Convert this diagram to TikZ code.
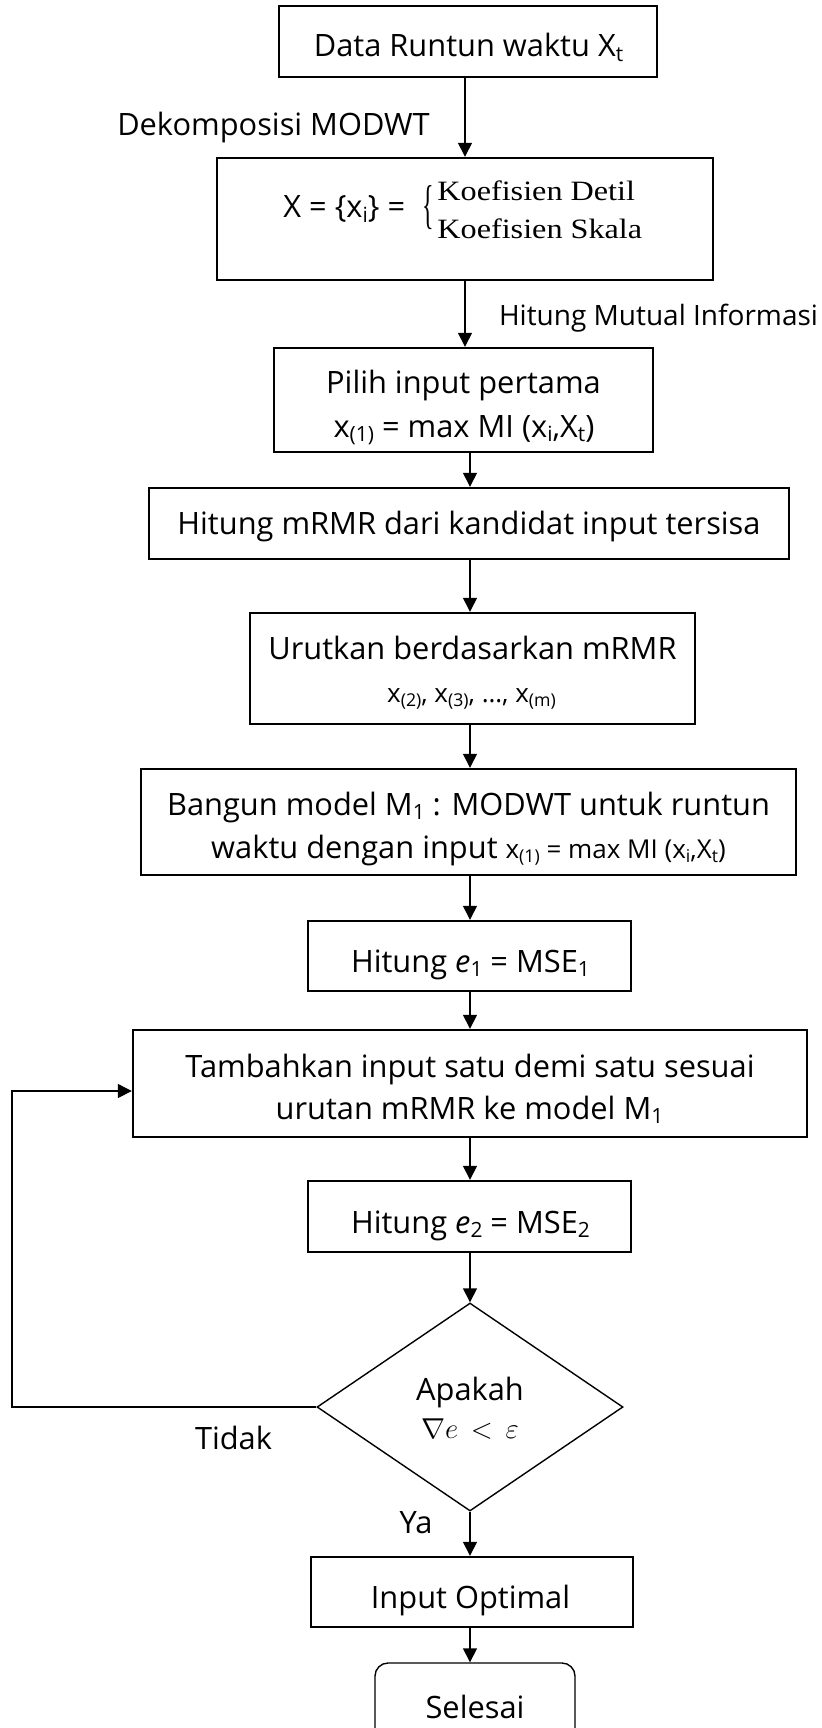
\documentclass[tikz,border=0pt]{standalone}
\usepackage{fontspec}
\usepackage{graphicx}
\setmainfont{Open Sans}
\newfontfamily\serifk[FakeStretch=1.15]{Liberation Serif}
\usetikzlibrary{arrows.meta,shapes.geometric}
\newcommand\lowr[1]{\raisebox{-0.16em}{\scalebox{0.68}{#1}}}
\tikzset{
  box/.style={draw, line width=1.2pt, inner sep=0pt},
  thinbox/.style={draw, line width=0.7pt, inner sep=0pt},
  txt/.style={inner sep=0pt, anchor=base, font=\fontsize{15.4pt}{20pt}\selectfont},
  smalltxt/.style={inner sep=0pt, anchor=base, font=\fontsize{13pt}{16pt}\selectfont},
  sertxt/.style={inner sep=0pt, anchor=west, align=left, font=\fontsize{14pt}{19pt}\serifk},
  arr/.style={line width=0.7pt, -{Triangle[length=7pt,width=7pt]}},
}
\begin{document}
\begin{tikzpicture}[x=0.5pt,y=-0.5pt]
\useasboundingbox (0,0) rectangle (822,1728);
\clip (0,0) rectangle (822,1728);
% boxes
\node[box, minimum width=189pt, minimum height=35.5pt] (b1) at (468,41.5) {};
\node[box, minimum width=248pt, minimum height=61pt] (b2) at (465,219) {};
\node[box, minimum width=189.5pt, minimum height=52pt] (b3) at (463.5,400) {};
\node[box, minimum width=320pt, minimum height=35.5pt] (b4) at (469,523.5) {};
\node[box, minimum width=222.5pt, minimum height=55.5pt] (b5) at (472.5,668.5) {};
\node[box, minimum width=327.5pt, minimum height=53pt] (b6) at (468.5,822) {};
\node[box, minimum width=161.5pt, minimum height=35pt] (b7) at (469.5,956) {};
\node[box, minimum width=337pt, minimum height=53.5pt] (b8) at (470,1083.5) {};
\node[box, minimum width=161.5pt, minimum height=35.5pt] (b9) at (469.5,1216.5) {};
\node[thinbox, diamond, minimum width=153pt, minimum height=104pt] (dec) at (470,1407) {};
\node[box, minimum width=161pt, minimum height=35pt] (b10) at (472,1592) {};
\node[thinbox, rounded corners=6.5pt, minimum width=100pt, minimum height=39.5pt] (b11) at (475,1702.5) {};
% texts
\node[txt] (t1) at (468.5,57) {Data Runtun waktu X\lowr{t}};
\node[txt] (lab1) at (273.5,136) {Dekomposisi MODWT};
\node[txt, anchor=base west] (t2) at (283,218) {X = \{x\lowr{i}\} =};
\node[inner sep=0pt, font=\fontsize{14pt}{16pt}\serifk] (br) at (428,208) {\scalebox{0.75}[1.9]{\{}};
\node[sertxt] (k) at (437,209.5) {Koefisien Detil\\Koefisien Skala};
\node[txt, font=\fontsize{14pt}{18pt}\selectfont] (lab2) at (658.5,325) {Hitung Mutual Informasi};
\node[txt] (t3a) at (463.5,393) {Pilih input pertama};
\node[txt] (t3b) at (464,437) {x\lowr{(1)} = max MI (x\lowr{i},X\lowr{t})};
\node[txt] (t4) at (469,534) {Hitung mRMR dari kandidat input tersisa};
\node[txt] (t5a) at (472.5,659) {Urutkan berdasarkan mRMR};
\node[smalltxt] (t5b) at (471.5,702) {x\lowr{(2)}, x\lowr{(3)}, \dots, x\lowr{(m)}};
\node[txt] (t6a) at (468.5,815) {Bangun model M\lowr{1} : MODWT untuk runtun};
\node[txt] (t6b) at (468.5,858) {waktu dengan input {\fontsize{13pt}{16pt}\selectfont x\lowr{(1)} = max MI (x\lowr{i},X\lowr{t})}};
\node[txt] (t7) at (470.5,972) {Hitung \textit{e}\lowr{1} = MSE\lowr{1}};
\node[txt] (t8a) at (470,1077) {Tambahkan input satu demi satu sesuai};
\node[txt] (t8b) at (469.5,1119) {urutan mRMR ke model M\lowr{1}};
\node[txt] (t9) at (470.5,1233) {Hitung \textit{e}\lowr{2} = MSE\lowr{2}};
\node[txt] (ta) at (470,1400) {Apakah};
\node[txt] (tb) at (470,1438) {$\nabla e\,<\,\varepsilon$};
\node[txt] (tidak) at (233.5,1449) {Tidak};
\node[txt] (ya) at (416,1533) {Ya};
\node[txt] (t10) at (470.5,1608) {Input Optimal};
\node[txt] (t11) at (475,1718) {Selesai};
% connectors
\coordinate (c1) at (465,0);
\coordinate (c2) at (470,0);
\coordinate (fb1) at (12,1407);
\coordinate (fb2) at (12,1091);
\draw[arr] (b1.south -| c1) -- (b2.north -| c1);
\draw[arr] (b2.south -| c1) -- (b3.north -| c1);
\draw[arr] (b3.south -| c2) -- (b4.north -| c2);
\draw[arr] (b4.south -| c2) -- (b5.north -| c2);
\draw[arr] (b5.south -| c2) -- (b6.north -| c2);
\draw[arr] (b6.south -| c2) -- (b7.north -| c2);
\draw[arr] (b7.south -| c2) -- (b8.north -| c2);
\draw[arr] (b8.south -| c2) -- (b9.north -| c2);
\draw[arr] (b9.south -| c2) -- (dec.north);
\draw[arr] (dec.south) -- (b10.north -| dec.south);
\draw[arr] (b10.south -| dec.south) -- (b11.north -| dec.south);
\draw[arr] (dec.west) -- (fb1) -- (fb2) -- (b8.west |- fb2);
\end{tikzpicture}
\end{document}
